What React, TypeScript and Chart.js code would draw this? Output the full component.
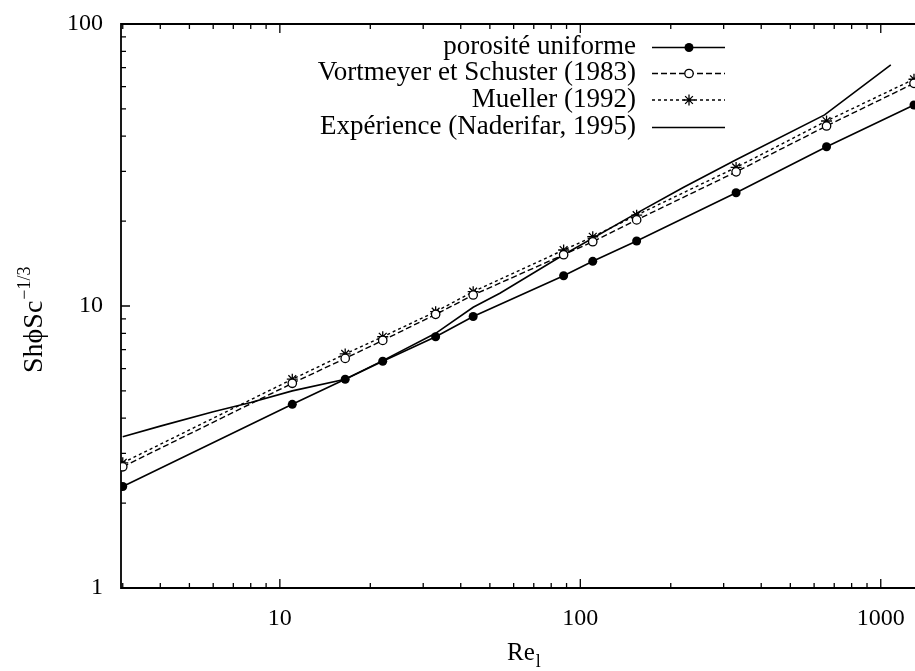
import React, { useEffect, useRef } from 'react';
import { Chart, registerables } from 'chart.js';

Chart.register(...registerables);

const FONT = '"Liberation Serif", "Times New Roman", Times, serif';

// Reynolds numbers (shared by the three model series)
const reX = [3, 11, 16.5, 22, 33, 44, 88, 110, 154, 330, 660, 1290];
const uniformY = [2.29, 4.48, 5.5, 6.37, 7.78, 9.18, 12.8, 14.4, 17.0, 25.2, 36.7, 51.6];
const vortmeyerY = [2.69, 5.32, 6.52, 7.55, 9.34, 10.94, 15.2, 16.9, 20.2, 29.9, 43.5, 61.6];
const muellerY = [2.78, 5.5, 6.76, 7.78, 9.55, 11.24, 15.8, 17.6, 21.0, 31.0, 45.3, 63.7];
// Experimental curve (Naderifar, 1995)
const expX = [3, 4, 6, 8, 11, 16.5, 22, 33, 44, 54, 88, 150, 220, 330, 650, 1080];
const expY = [3.44, 3.75, 4.22, 4.55, 5.0, 5.5, 6.4, 8.0, 9.9, 11.1, 15.2, 21.0, 26.3, 33.0, 47.6, 71.6];

const seriesLabels = [
  'porosité uniforme',
  'Vortmeyer et Schuster (1983)',
  'Mueller (1992)',
  'Expérience (Naderifar, 1995)',
];
const xTickLabels = [10, 100, 1000];
const yTickLabels = [1, 10, 100];

const X_MIN = 2.96;
const X_MAX = 1300;
const Y_MIN = 1;
const Y_MAX = 100;

const pairs = (xs: number[], ys: number[]) => xs.map((x, i) => ({ x, y: ys[i] }));

const isLabelled = (v: number, list: number[]) => list.some((t) => Math.abs(t - v) < 1e-6 * t);

function tickValues(min: number, max: number) {
  const out: { v: number; major: boolean }[] = [];
  for (let d = 1; d <= 1000; d *= 10) {
    for (let k = 1; k <= 9; k++) {
      const v = d * k;
      if (v >= min - 1e-9 && v <= max + 1e-9) out.push({ v, major: k === 1 });
    }
  }
  return out;
}

const drawMarker = (ctx: CanvasRenderingContext2D, kind: string, x: number, y: number) => {
  ctx.save();
  ctx.strokeStyle = '#000';
  ctx.setLineDash([]);
  if (kind === 'filled') {
    ctx.fillStyle = '#000';
    ctx.beginPath();
    ctx.arc(x, y, 4.5, 0, Math.PI * 2);
    ctx.fill();
  } else if (kind === 'open') {
    ctx.fillStyle = '#fff';
    ctx.lineWidth = 1.3;
    ctx.beginPath();
    ctx.arc(x, y, 4.2, 0, Math.PI * 2);
    ctx.fill();
    ctx.stroke();
  } else if (kind === 'star') {
    ctx.lineWidth = 1.3;
    const r = 5.5;
    ctx.beginPath();
    for (let i = 0; i < 4; i++) {
      const a = (i * Math.PI) / 4;
      ctx.moveTo(x - r * Math.cos(a), y - r * Math.sin(a));
      ctx.lineTo(x + r * Math.cos(a), y + r * Math.sin(a));
    }
    ctx.stroke();
  }
  ctx.restore();
};

const zeroPad = (s: any) => {
  s.paddingLeft = 0;
  s.paddingRight = 0;
  s.paddingTop = 0;
  s.paddingBottom = 0;
};

const framePlugin = {
  id: 'frameTicks',
  beforeDatasetsDraw(chart: any) {
    const { ctx, chartArea } = chart;
    const xs = chart.scales.x;
    const ys = chart.scales.y;
    const { left, right, top, bottom } = chartArea;
    ctx.save();
    ctx.strokeStyle = '#000';
    ctx.lineWidth = 1.8;
    ctx.beginPath();
    ctx.moveTo(right + 2, top);
    ctx.lineTo(left, top);
    ctx.lineTo(left, bottom);
    ctx.lineTo(right + 2, bottom);
    ctx.stroke();
    ctx.lineWidth = 1.3;
    ctx.beginPath();
    for (const t of tickValues(X_MIN, X_MAX)) {
      const px = xs.getPixelForValue(t.v);
      const len = t.major ? 9 : 5;
      ctx.moveTo(px, bottom);
      ctx.lineTo(px, bottom - len);
      ctx.moveTo(px, top);
      ctx.lineTo(px, top + len);
    }
    for (const t of tickValues(Y_MIN, Y_MAX)) {
      const py = ys.getPixelForValue(t.v);
      const len = t.major ? 9 : 5;
      ctx.moveTo(left, py);
      ctx.lineTo(left + len, py);
    }
    ctx.stroke();
    ctx.restore();
  },
  afterDraw(chart: any) {
    const { ctx } = chart;
    ctx.save();
    ctx.fillStyle = '#000';
    // Y axis title: ShϕSc^{-1/3}
    ctx.save();
    ctx.translate(42, 373);
    ctx.rotate(-Math.PI / 2);
    ctx.font = `28px ${FONT}`;
    ctx.textAlign = 'left';
    ctx.textBaseline = 'alphabetic';
    const main = 'ShϕSc';
    ctx.fillText(main, 0, 0);
    const w = ctx.measureText(main).width;
    ctx.font = `18px ${FONT}`;
    ctx.fillText('−1/3', w + 1, -12);
    ctx.restore();
    // X axis title: Re_l
    ctx.font = `25px ${FONT}`;
    ctx.textAlign = 'left';
    ctx.textBaseline = 'alphabetic';
    ctx.fillText('Re', 507, 660);
    const rw = ctx.measureText('Re').width;
    ctx.font = `18px ${FONT}`;
    ctx.fillText('l', 507 + rw + 1, 667);

    // Legend
    const kinds = ['filled', 'open', 'star', 'none'];
    const dashes = [[], [6, 3], [3, 3], []];
    const rowY = [47.5, 73.5, 100, 127.5];
    ctx.font = `27px ${FONT}`;
    ctx.textAlign = 'right';
    for (let i = 0; i < seriesLabels.length; i++) {
      const y = rowY[i];
      ctx.fillStyle = '#000';
      ctx.fillText(seriesLabels[i], 636, y + 6.5);
      ctx.strokeStyle = '#000';
      ctx.lineWidth = 1.5;
      ctx.setLineDash(dashes[i]);
      ctx.beginPath();
      ctx.moveTo(652, y);
      ctx.lineTo(725, y);
      ctx.stroke();
      ctx.setLineDash([]);
      if (kinds[i] !== 'none') drawMarker(ctx, kinds[i], 689, y);
    }
    ctx.restore();
  },
};

export default function App() {
  const ref = useRef<HTMLCanvasElement | null>(null);
  useEffect(() => {
    if (!ref.current) return;
    const chart = new Chart(ref.current, {
      type: 'line',
      data: {
        datasets: [
          {
            label: seriesLabels[0],
            data: pairs(reX, uniformY),
            borderColor: '#000',
            borderWidth: 1.6,
            pointStyle: 'circle',
            pointRadius: 4.5,
            pointBackgroundColor: '#000',
            pointBorderColor: '#000',
            pointBorderWidth: 0,
            tension: 0,
          },
          {
            label: seriesLabels[1],
            data: pairs(reX, vortmeyerY),
            borderColor: '#000',
            borderWidth: 1.4,
            borderDash: [6, 3],
            pointStyle: 'circle',
            pointRadius: 4.2,
            pointBackgroundColor: '#fff',
            pointBorderColor: '#000',
            pointBorderWidth: 1.3,
            tension: 0,
          },
          {
            label: seriesLabels[2],
            data: pairs(reX, muellerY),
            borderColor: '#000',
            borderWidth: 1.4,
            borderDash: [3, 3],
            pointStyle: 'star',
            pointRadius: 5.5,
            pointBorderColor: '#000',
            pointBorderWidth: 1.3,
            tension: 0,
          },
          {
            label: seriesLabels[3],
            data: pairs(expX, expY),
            borderColor: '#000',
            borderWidth: 1.6,
            pointRadius: 0,
            tension: 0,
          },
        ],
      },
      options: {
        animation: false,
        responsive: false,
        maintainAspectRatio: false,
        layout: { autoPadding: false, padding: { top: 24, left: 0, right: 0, bottom: 0 } },
        plugins: {
          legend: { display: false },
          tooltip: { enabled: false },
        },
        scales: {
          x: {
            type: 'logarithmic',
            min: X_MIN,
            max: X_MAX,
            grid: { display: false, drawTicks: false },
            border: { display: false },
            ticks: {
              autoSkip: false,
              maxRotation: 0,
              padding: 16,
              color: '#000',
              font: { family: FONT, size: 24 },
              callback: (v: any) => (isLabelled(Number(v), xTickLabels) ? String(Number(v)) : ''),
            },
            afterFit: (s: any) => {
              s.height = 83;
              zeroPad(s);
            },
          },
          y: {
            type: 'logarithmic',
            min: Y_MIN,
            max: Y_MAX,
            grid: { display: false, drawTicks: false },
            border: { display: false },
            ticks: {
              autoSkip: false,
              padding: 18,
              color: '#000',
              font: { family: FONT, size: 24 },
              callback: (v: any) => (isLabelled(Number(v), yTickLabels) ? String(Number(v)) : ''),
            },
            afterFit: (s: any) => {
              s.width = 121;
              zeroPad(s);
            },
          },
        },
      },
      plugins: [framePlugin],
    });
    return () => chart.destroy();
  }, []);
  return (
    <div style={{ position: 'absolute', left: 0, top: 0, width: 915, height: 671, background: '#fff' }}>
      <canvas ref={ref} width={915} height={671} style={{ display: 'block' }} />
    </div>
  );
}
